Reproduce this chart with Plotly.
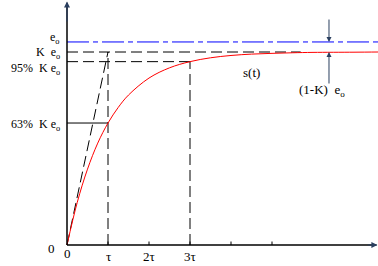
import plotly.graph_objects as go

# ---- data (units: t in tau, levels in K*e0) ----
t_vals = [0, 0.25, 0.5, 0.75, 1.0, 1.25, 1.5, 2.0, 2.5, 3.0, 3.5, 4.0, 4.5, 5.0, 5.5, 6.0, 7.0, 7.6]
s_vals = [0, 0.221, 0.393, 0.528, 0.632, 0.713, 0.777, 0.865, 0.918, 0.950, 0.970, 0.982, 0.989, 0.993, 0.996, 0.998, 0.999, 1.0]
e0_level = 1.052
K_level = 1.0
p95_level = 0.95
p63_level = 0.632
tick_pos = [1, 2, 3, 4, 5]
tick_text = ["τ", "2τ", "3τ", "", ""]
level_labels = ["e<sub>o</sub>", "K  e<sub>o</sub>", "95%  K e<sub>o</sub>", "63%  K e<sub>o</sub>", "0"]
level_label_y = [1.075, 0.993, 0.913, 0.622, -0.016]

XMIN, XMAX = -67 / 41, 311 / 41
YMIN, YMAX = -21 / 193, 245 / 193

FONT = dict(family="Liberation Serif, Times New Roman, serif", size=13, color="black")
LFONT = dict(family="Liberation Serif, Times New Roman, serif", size=12, color="black")
DASH = "11px,5px"

fig = go.Figure()

def seg(x, y, color="black", dash=DASH, width=1):
    fig.add_trace(go.Scatter(x=x, y=y, mode="lines", hoverinfo="skip",
                             line=dict(color=color, width=width, dash=dash)))

# blue e0 line (dash-dot)
seg([0, XMAX], [e0_level, e0_level], color="#0000ff", dash="22px,4px,5px,4px")
# K e0 dashed
seg([0, 5.7], [K_level, K_level])
# 95% dashed
seg([0, 3], [p95_level, p95_level])
# 63% line
seg([0, 1], [p63_level, p63_level], dash="solid")
# tangent
seg([0, 1], [0, K_level])
# verticals
seg([1, 1], [0, K_level])
seg([3, 3], [0, p95_level])
# red response curve
fig.add_trace(go.Scatter(x=t_vals, y=s_vals, mode="lines", hoverinfo="skip",
                         line=dict(color="#ff0000", width=1, shape="spline")))

# axes
seg([0, 0], [0, 1.255], dash="solid", width=1.5)
seg([0, 7.55], [0, 0], dash="solid", width=1.5)
fig.add_annotation(x=0, y=1.262, ax=0, ay=1.15, xref="x", yref="y", axref="x", ayref="y",
                   showarrow=True, arrowhead=2, arrowsize=1, arrowwidth=1.2, text="")
fig.add_annotation(x=7.57, y=0, ax=7.3, ay=0, xref="x", yref="y", axref="x", ayref="y",
                   showarrow=True, arrowhead=2, arrowsize=1, arrowwidth=1.2, text="")
# ticks
for tp in tick_pos:
    seg([tp, tp], [0, 0.018], dash="solid", width=1)

# (1-K) arrows
xa = 6.39
fig.add_annotation(x=xa, y=e0_level, ax=xa, ay=1.176, xref="x", yref="y", axref="x", ayref="y",
                   showarrow=True, arrowhead=2, arrowsize=1, arrowwidth=1, text="")
fig.add_annotation(x=xa, y=K_level, ax=xa, ay=0.829, xref="x", yref="y", axref="x", ayref="y",
                   showarrow=True, arrowhead=2, arrowsize=1, arrowwidth=1, text="")
fig.add_annotation(x=6.21, y=0.80, xref="x", yref="y", text="(1-K)  e<sub>o</sub>",
                   showarrow=False, font=FONT, xanchor="center", yanchor="middle")
fig.add_annotation(x=4.49, y=0.896, xref="x", yref="y", text="s(t)",
                   showarrow=False, font=FONT, xanchor="center", yanchor="middle")

# left labels
for lab, ly in zip(level_labels, level_label_y):
    fig.add_annotation(x=-0.15 if lab != "0" else -0.28, y=ly, xref="x", yref="y", text=lab,
                       showarrow=False, font=LFONT if lab != "0" else FONT,
                       xanchor="right", yanchor="middle", borderpad=0)
# x tick labels
fig.add_annotation(x=0, y=-0.045, xref="x", yref="y", text="0", showarrow=False, font=FONT,
                   xanchor="center", yanchor="middle")
for tp, tt in zip(tick_pos, tick_text):
    if tt:
        fig.add_annotation(x=tp, y=-0.06, xref="x", yref="y", text=tt, showarrow=False,
                           font=FONT, xanchor="center", yanchor="middle")

fig.update_layout(
    width=378, height=266, margin=dict(l=0, r=0, t=0, b=0),
    paper_bgcolor="white", plot_bgcolor="white", showlegend=False,
    xaxis=dict(range=[XMIN, XMAX], visible=False, fixedrange=True),
    yaxis=dict(range=[YMIN, YMAX], visible=False, fixedrange=True),
)
fig.write_html("out.html")
